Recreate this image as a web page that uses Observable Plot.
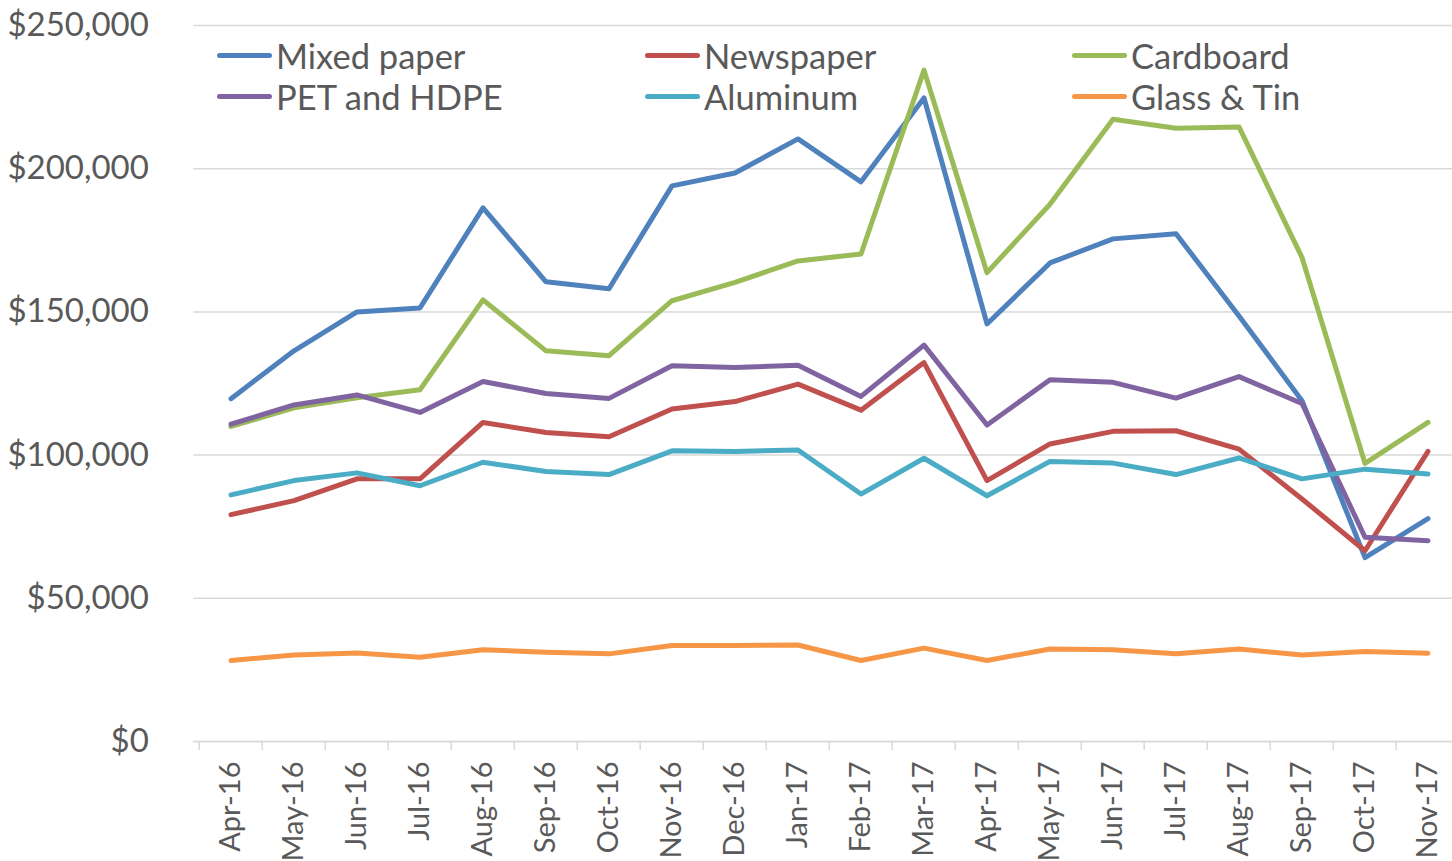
<!DOCTYPE html>
<html>
<head>
<meta charset="utf-8">
<script src="https://cdn.jsdelivr.net/npm/d3@7"></script>
<script src="https://cdn.jsdelivr.net/npm/@observablehq/plot@0.6"></script>
<style>
  html, body { margin: 0; padding: 0; background: #fff; }
  #wrap { position: relative; width: 1452px; height: 861px; overflow: hidden; font-family: Lato, "Open Sans", sans-serif; }
  #legend { position: absolute; left: 0; top: 0; width: 1452px; height: 130px; pointer-events: none; }
  .item { position: absolute; display: flex; align-items: center; height: 40px; color: #595959; font-size: 34.5px; white-space: nowrap; }
  .sw { width: 55px; height: 5px; border-radius: 3px; margin-right: 4px; }
</style>
</head>
<body>
<div id="wrap"><div id="legend"></div></div>
<script>
const months = ["Apr-16","May-16","Jun-16","Jul-16","Aug-16","Sep-16","Oct-16","Nov-16","Dec-16","Jan-17",
                "Feb-17","Mar-17","Apr-17","May-17","Jun-17","Jul-17","Aug-17","Sep-17","Oct-17","Nov-17"];

const seriesNames = ["Mixed paper","Newspaper","Cardboard","PET and HDPE","Aluminum","Glass & Tin"];
const seriesColors = ["#4f81bd","#c0504d","#9bbb59","#8064a2","#4bacc6","#f79646"];

const mixedPaper = [119700,136400,150000,151400,186300,160500,158100,194000,198500,210400,
                    195400,224700,145800,167100,175500,177300,148600,119000,64200,77800];
const newspaper  = [79200,84100,91700,91700,111400,107900,106400,116100,118700,124800,
                    115700,132300,91100,103900,108300,108500,102100,84700,66600,101300];
const cardboard  = [110000,116500,120000,122800,154200,136400,134700,153900,160300,167800,
                    170200,234400,163700,187600,217300,214100,214600,169000,97100,111400];
const petHdpe    = [110800,117500,121000,114900,125700,121500,119800,131200,130600,131400,
                    120500,138400,110500,126300,125400,119900,127400,118000,71300,70100];
const aluminum   = [86100,91100,93800,89300,97500,94300,93200,101500,101300,101800,
                    86400,98900,85800,97800,97200,93200,99000,91700,95100,93400];
const glassTin   = [28300,30200,30900,29400,32000,31200,30600,33500,33500,33700,
                    28300,32600,28300,32300,32000,30600,32300,30200,31400,30800];

const yTicks = [0, 50000, 100000, 150000, 200000, 250000];

const seriesValues = [mixedPaper, newspaper, cardboard, petHdpe, aluminum, glassTin];
const data = seriesNames.flatMap((s, si) =>
  months.map((m, i) => ({series: s, month: m, value: seriesValues[si][i]})));

const W = 1452, H = 861;
const left = 193.4, bandW = 63.6;

const chart = Plot.plot({
  width: W,
  height: H,
  marginLeft: left,
  marginRight: 0,
  marginTop: 25,
  marginBottom: 120,
  style: {fontFamily: "Lato, 'Open Sans', sans-serif", fontSize: "32px", color: "#595959", background: "#fff", overflow: "visible"},
  x: {type: "band", domain: months, range: [left, left + bandW * months.length], padding: 0, label: null},
  y: {domain: [0, 250000], label: null},
  color: {domain: seriesNames, range: seriesColors},
  marks: [
    Plot.gridY(yTicks, {stroke: "#d9d9d9", strokeOpacity: 1, strokeWidth: 1.5}),
    Plot.ruleY([0], {stroke: "#d9d9d9", strokeWidth: 1.5}),
    Plot.axisY(yTicks, {tickSize: 0, tickPadding: 45, fontSize: 33, fill: "#595959", label: null,
      tickFormat: d => "$" + d3.format(",")(d)}),
    Plot.axisX({tickSize: 9, dx: -bandW / 2, stroke: "#d9d9d9", strokeWidth: 1.5, strokeOpacity: 1, tickFormat: () => "", label: null}),
    Plot.axisX({tickSize: 0, tickRotate: -90, tickPadding: 20, fontSize: 29, fill: "#595959", label: null}),
    Plot.line(data, {x: "month", y: "value", z: "series", stroke: "series",
      strokeWidth: 5, strokeLinecap: "round", strokeLinejoin: "round"})
  ]
});
document.getElementById("wrap").prepend(chart);

// legend (inside the plot area, 3 columns x 2 rows)
const legend = document.getElementById("legend");
const colLeft = [217, 645, 1072];
const rowTop = [35, 76];
seriesNames.forEach((name, i) => {
  const item = document.createElement("div");
  item.className = "item";
  item.style.left = colLeft[i % 3] + "px";
  item.style.top = rowTop[Math.floor(i / 3)] + "px";
  const sw = document.createElement("div");
  sw.className = "sw";
  sw.style.background = seriesColors[i];
  const label = document.createElement("span");
  label.textContent = name;
  item.append(sw, label);
  legend.append(item);
});
</script>
</body>
</html>
